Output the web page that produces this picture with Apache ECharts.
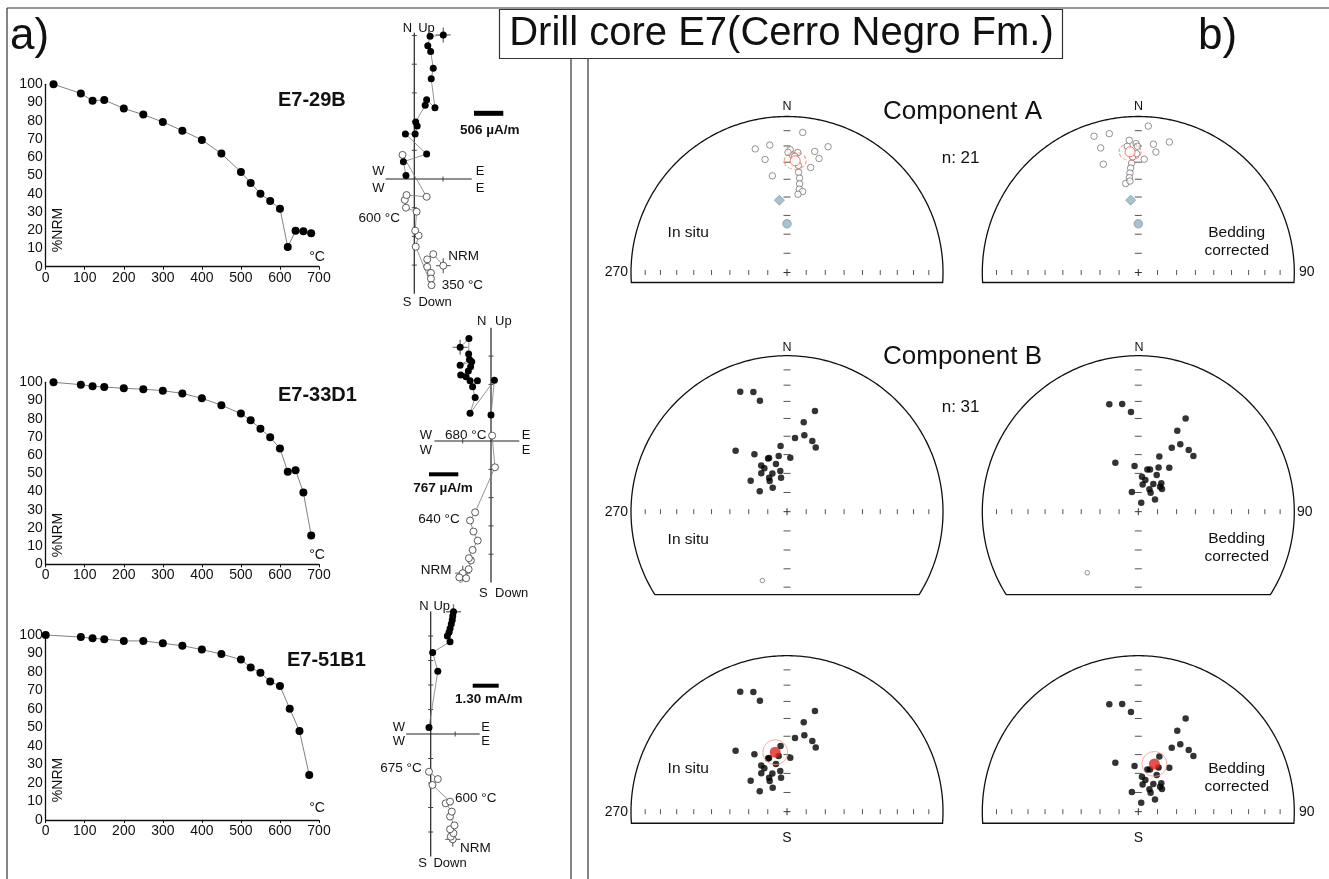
<!DOCTYPE html>
<html>
<head>
<meta charset="utf-8">
<script src="https://cdn.jsdelivr.net/npm/echarts@6/dist/echarts.min.js"></script>
<style>
  html, body { margin: 0; padding: 0; background: #fff; }
  #chart { width: 1329px; height: 879px; }
</style>
</head>
<body>
<div id="chart"></div>
<script>
// ---------- thermal demagnetisation: temperature (°C) vs remaining NRM (%) ----------
const temps29B  = [20, 90, 120, 150, 200, 250, 300, 350, 400, 450, 500, 525, 550, 575, 600, 620, 640, 660, 680];
const nrm29B    = [100, 95, 91, 91.4, 86.7, 83.4, 79.3, 74.6, 69.5, 62, 51.9, 45.9, 40, 36, 31.8, 10.8, 19.7, 19.4, 18.3];
const temps33D1 = [20, 90, 120, 150, 200, 250, 300, 350, 400, 450, 500, 525, 550, 575, 600, 620, 640, 660, 680];
const nrm33D1   = [100, 98.7, 97.8, 97.4, 96.7, 96.2, 95.4, 93.9, 91.2, 87.4, 82.8, 79.1, 74.5, 69.8, 63.6, 50.8, 51.7, 39.4, 15.8];
const temps51B1 = [0, 90, 120, 150, 200, 250, 300, 350, 400, 450, 500, 525, 550, 575, 600, 625, 650, 675];
const nrm51B1   = [100, 98.9, 98.2, 97.7, 96.8, 96.8, 95.5, 94.2, 92.1, 89.7, 86.7, 82.5, 79.6, 74.8, 72.4, 60.2, 48.1, 24.3];

// ---------- orthogonal vector diagrams (units of each specimen's scale bar) ----------
// horizontal plane (E, N): filled symbols; vertical plane (E, Up): open symbols; first entry = NRM
const zijH29B = [[1.01,5.02],[0.55,4.97],[0.47,4.64],[0.57,4.44],[0.66,3.86],[0.59,3.49],[0.72,2.48],[0.43,2.76],[0.38,2.57],[0.05,1.99],[0.10,1.85],[0.03,1.57],[-0.31,1.57],[0.43,0.87],[-0.38,0.60],[-0.29,0.12]];
const zijV29B = [[1.01,-3.02],[0.66,-2.62],[0.45,-2.80],[0.45,-3.06],[0.58,-3.27],[0.58,-3.47],[0.60,-3.70],[0.05,-2.36],[0.15,-1.97],[0.03,-1.80],[0.08,-1.14],[-0.29,-1.00],[-0.33,-0.73],[-0.27,-0.56],[0.43,-0.62],[-0.41,0.84]];
const zijH33D1 = [[-1.09,3.31],[-0.78,3.62],[-0.79,3.07],[-0.76,2.88],[-1.09,2.68],[-0.68,2.80],[-0.72,2.62],[-0.80,2.47],[-1.07,2.33],[-0.88,2.27],[-0.74,2.13],[-0.48,2.13],[-0.65,1.92],[-0.56,1.54],[-0.74,0.98],[0.12,2.15],[0.00,0.92]];
const zijV33D1 = [[-1.00,-4.67],[-1.12,-4.82],[-1.09,-5.02],[-0.88,-4.85],[-0.79,-4.53],[-0.71,-4.22],[-0.78,-4.14],[-0.65,-3.85],[-0.47,-3.52],[-0.62,-3.20],[-0.74,-2.81],[-0.56,-2.52],[0.14,-0.93],[0.04,0.19]];
const zijH51B1 = [[0.93,4.99],[0.90,4.82],[0.88,4.65],[0.84,4.49],[0.79,4.31],[0.75,4.15],[0.68,4.00],[0.79,3.77],[0.08,3.33],[0.29,2.56],[-0.07,0.27]];
const zijV51B1 = [[0.90,-4.30],[0.82,-4.19],[0.93,-4.05],[0.79,-3.89],[0.97,-3.73],[0.79,-3.37],[0.86,-3.17],[0.61,-2.83],[0.79,-2.76],[0.07,-2.08],[0.29,-1.84],[-0.07,-1.54]];

// ---------- site directions [declination, inclination] (negative inclination = upper hemisphere) ----------
const compAInSitu = [[6.4,-10.6],[345.6,-19.3],[352.3,-18.7],[349,-27.1],[1.5,-22.4],[5.1,-23.8],[12.9,-21.5],[18.1,-16.3],[15.7,-25.1],[12.7,-31.6],[351.4,-37.4],[2.7,-25.7],[6.6,-35.6],[7.6,-38.9],[8.1,-42.1],[8.4,-45.1],[10.9,-46.1],[8.0,-48.0],[3.8,-26.3],[6.1,-31.6],[0.5,-24.0]];
const compABedding = [[3.9,-6.6],[342,-9.0],[348.2,-10.0],[343.2,-17.7],[356.1,-16.2],[359,-18.5],[6.7,-18.3],[13.4,-15.1],[8.3,-23.0],[3.0,-28.1],[342.1,-27.9],[355,-19.9],[359.6,-20.2],[356.5,-30.4],[355.8,-33.3],[355.2,-36.2],[354.6,-38.8],[351.9,-41.9],[354.8,-40.8],[357.2,-26.7],[359.2,-24.8]];
const compBInSitu = [[338.7,18.6],[344.3,21.4],[346.3,27.6],[15.5,33.4],[10.6,41.3],[12.8,48.4],[6.2,50.7],[24.1,52.8],[19.7,50.2],[354.4,55.2],[319.9,47.6],[330.4,55.2],[341.5,60.3],[351.5,60.4],[3.5,61.6],[347,64.3],[330.8,62.3],[332.5,64.3],[339.1,68.6],[326.2,65.8],[350.6,68.5],[350.1,72.0],[332.2,70.0],[310.5,65.0],[330.6,71.6],[307,72.2],[329.1,75.5],[340.4,60.3],[199.7,-51.3]];
const compBBedding = [[344.9,29.4],[351.5,30.8],[355.8,36.1],[26.9,33.4],[25.7,41.9],[31.9,47.8],[27.6,51.8],[44.7,48.4],[39.3,47.7],[20.9,59.0],[334.9,61.6],[355.3,66.0],[12.1,67.4],[15.5,67.1],[24.6,64.5],[35.2,61.8],[26.7,68.6],[6.0,71.7],[12.6,73.1],[9.0,75.6],[28.5,73.6],[38.9,70.9],[46.3,72.9],[26.4,77.0],[32.9,78.2],[342,79.2],[53.6,79.2],[18.1,85.1],[41,72.7],[219.9,-47.7]];
const meanAInSitu  = [4.2, -29.0];
const meanABedding = [356.1, -23.5];
const meanBInSitu  = [348.8, 58.1];
const meanBBedding = [18.6, 63.6];
const presentField = [354, -51.5];   // diamond
const gadField     = [0, -64.5];     // circle

// ---------- drawing helpers ----------
const FONT = '"Liberation Sans", Arial, Helvetica, sans-serif';
const rad = Math.PI / 180;
const eqR = inc => Math.SQRT2 * Math.sin((90 - Math.abs(inc)) / 2 * rad);
function eqArea(d) { const r = eqR(d[1]); return [r * Math.sin(d[0] * rad), r * Math.cos(d[0] * rad)]; }
const CROSS = 'path://M0,4.55h10v0.9h-10z M4.55,0h0.9v10h-0.9z';

const grids = [], xAxes = [], yAxes = [], series = [];
function addGrid(g, xa, ya) {
  grids.push(Object.assign({ outerBoundsMode: 'none', containLabel: false }, g));
  const gi = grids.length - 1;
  xa.gridIndex = gi; ya.gridIndex = gi;
  xAxes.push(xa); yAxes.push(ya);
  return gi;
}
function seg(ch, a, b, w, c) {
  ch.push({ type: 'line', shape: { x1: a[0], y1: a[1], x2: b[0], y2: b[1] }, style: { stroke: c || '#222', lineWidth: w || 1 } });
}

// ---------- demagnetisation curves ----------
const demagLayout = [
  { left: 45.7, top: 84.3, width: 273.3, height: 182.4 },
  { left: 45.7, top: 382.3, width: 273.3, height: 182 },
  { left: 45.7, top: 635, width: 273.3, height: 185 }
];
const demagSets = [[temps29B, nrm29B], [temps33D1, nrm33D1], [temps51B1, nrm51B1]];
demagLayout.forEach((g, i) => {
  const gi = addGrid(g,
    { type: 'value', min: 0, max: 700, interval: 100,
      axisLine: { show: true, onZero: false, lineStyle: { color: '#111', width: 1.3 } },
      axisTick: { show: true, length: 3, lineStyle: { color: '#111' } },
      axisLabel: { fontSize: 14, color: '#111', margin: 4, fontFamily: FONT },
      splitLine: { show: false } },
    { type: 'value', min: 0, max: 100, interval: 10,
      axisLine: { show: true, onZero: false, lineStyle: { color: '#111', width: 1.3 } },
      axisTick: { show: false },
      axisLabel: { fontSize: 14, color: '#111', margin: 3, fontFamily: FONT },
      splitLine: { show: false } });
  series.push({
    type: 'line', xAxisIndex: gi, yAxisIndex: gi,
    data: demagSets[i][0].map((t, k) => [t, demagSets[i][1][k]]),
    symbol: 'circle', symbolSize: 8, showSymbol: true,
    itemStyle: { color: '#000' }, lineStyle: { color: '#808080', width: 1 }, z: 3
  });
});

// ---------- orthogonal vector diagrams ----------
const zijLayout = [
  { ox: 414.3, oy: 179, u: 28.7, x: [-1, 2], y: [-4, 5.1], h: zijH29B, v: zijV29B },
  { ox: 491,   oy: 441, u: 28.3, x: [-2, 1], y: [-5, 4],   h: zijH33D1, v: zijV33D1 },
  { ox: 430.7, oy: 734, u: 24.5, x: [-1, 2], y: [-5, 5],   h: zijH51B1, v: zijV51B1 }
];
function zijFrame(L) {
  return function (params, api) {
    const ch = [];
    seg(ch, api.coord([L.x[0], 0]), api.coord([L.x[1], 0]), 1.2);
    seg(ch, api.coord([0, L.y[0]]), api.coord([0, L.y[1]]), 1.2);
    for (let k = Math.ceil(L.x[0]); k <= L.x[1]; k++) {
      if (k === 0 || k === L.x[0] || k === L.x[1]) continue;
      const p = api.coord([k, 0]); seg(ch, [p[0], p[1] - 2.5], [p[0], p[1] + 2.5], 1, '#444');
    }
    for (let k = Math.ceil(L.y[0]); k <= L.y[1]; k++) {
      if (k === 0 || k === L.y[0] || k === L.y[1]) continue;
      const p = api.coord([0, k]); seg(ch, [p[0] - 2.5, p[1]], [p[0] + 2.5, p[1]], 1, '#444');
    }
    return { type: 'group', children: ch };
  };
}
zijLayout.forEach(L => {
  const gi = addGrid(
    { left: L.ox + L.x[0] * L.u, top: L.oy - L.y[1] * L.u, width: (L.x[1] - L.x[0]) * L.u, height: (L.y[1] - L.y[0]) * L.u },
    { type: 'value', min: L.x[0], max: L.x[1], show: false, splitLine: { show: false } },
    { type: 'value', min: L.y[0], max: L.y[1], show: false, splitLine: { show: false } });
  series.push({ type: 'custom', xAxisIndex: gi, yAxisIndex: gi, data: [[0, 0]], renderItem: zijFrame(L), silent: true, clip: false, z: 1 });
  // error crosses on the NRM step
  series.push({ type: 'scatter', xAxisIndex: gi, yAxisIndex: gi, data: [L.h[0], L.v[0]],
    symbol: CROSS, symbolSize: 15, itemStyle: { color: '#555' }, z: 2 });
  series.push({ type: 'line', xAxisIndex: gi, yAxisIndex: gi, data: L.v, symbol: 'circle', symbolSize: 7,
    itemStyle: { color: '#fff', borderColor: '#333', borderWidth: 0.8 }, lineStyle: { color: '#7a7a7a', width: 0.8 }, z: 3 });
  series.push({ type: 'line', xAxisIndex: gi, yAxisIndex: gi, data: L.h, symbol: 'circle', symbolSize: 7,
    itemStyle: { color: '#000' }, lineStyle: { color: '#7a7a7a', width: 0.8 }, z: 4 });
});

// ---------- equal-area stereonets ----------
const R = 156;
const netLayout = [
  { cx: 787,    cy: 272.5, clip: 0.064, dirs: compAInSitu,  openSize: 6.5, mean: meanAInSitu,  kind: 'A' },
  { cx: 1138.3, cy: 272.5, clip: 0.064, dirs: compABedding, openSize: 6.5, mean: meanABedding, kind: 'A' },
  { cx: 787,    cy: 511.7, clip: 0.532, dirs: compBInSitu,  openSize: 4.5, mean: null, kind: 'B' },
  { cx: 1138.3, cy: 511.7, clip: 0.532, dirs: compBBedding, openSize: 4.5, mean: null, kind: 'B' },
  { cx: 787,    cy: 811.7, clip: 0.074, dirs: compBInSitu,  openSize: 4.5, mean: meanBInSitu,  kind: 'C' },
  { cx: 1138.3, cy: 811.7, clip: 0.074, dirs: compBBedding, openSize: 4.5, mean: meanBBedding, kind: 'C' }
];
function netFrame(clip) {
  return function (params, api) {
    const ch = [];
    const a0 = Math.asin(clip);
    const pts = [];
    for (let k = 0; k <= 240; k++) {
      const a = -a0 + (Math.PI + 2 * a0) * k / 240;
      pts.push(api.coord([Math.cos(a), Math.sin(a)]));
    }
    ch.push({ type: 'polygon', shape: { points: pts }, style: { fill: 'none', stroke: '#111', lineWidth: 1.3 } });
    for (let I = 10; I <= 80; I += 10) {
      const r = eqR(I);
      [-r, r].forEach(x => { const p = api.coord([x, 0]); seg(ch, [p[0], p[1] - 2.5], [p[0], p[1] + 2.5], 1, '#555'); });
      const pu = api.coord([0, r]); seg(ch, [pu[0] - 3.5, pu[1]], [pu[0] + 3.5, pu[1]], 1, '#555');
      if (r < clip) { const pd = api.coord([0, -r]); seg(ch, [pd[0] - 3.5, pd[1]], [pd[0] + 3.5, pd[1]], 1, '#555'); }
    }
    const c = api.coord([0, 0]);
    seg(ch, [c[0] - 3.5, c[1]], [c[0] + 3.5, c[1]], 1, '#333');
    seg(ch, [c[0], c[1] - 3.5], [c[0], c[1] + 3.5], 1, '#333');
    return { type: 'group', children: ch };
  };
}
netLayout.forEach(N => {
  const gi = addGrid(
    { left: N.cx - R, top: N.cy - R, width: 2 * R, height: R * (1 + N.clip) },
    { type: 'value', min: -1, max: 1, show: false, splitLine: { show: false } },
    { type: 'value', min: -N.clip, max: 1, show: false, splitLine: { show: false } });
  const inView = p => p[1] >= -N.clip;
  series.push({ type: 'custom', xAxisIndex: gi, yAxisIndex: gi, data: [[0, 0]], renderItem: netFrame(N.clip), silent: true, clip: false, z: 1 });
  series.push({ type: 'scatter', xAxisIndex: gi, yAxisIndex: gi,
    data: N.dirs.filter(d => d[1] > 0).map(eqArea).filter(inView),
    symbol: 'circle', symbolSize: 6.5, itemStyle: { color: '#000' }, z: 3 });
  series.push({ type: 'scatter', xAxisIndex: gi, yAxisIndex: gi,
    data: N.dirs.filter(d => d[1] < 0).map(eqArea).filter(inView),
    symbol: 'circle', symbolSize: N.openSize, itemStyle: { color: '#fff', borderColor: '#555', borderWidth: 0.8 }, z: 3 });
  if (N.kind === 'A') {
    series.push({ type: 'scatter', xAxisIndex: gi, yAxisIndex: gi, data: [eqArea(presentField)],
      symbol: 'diamond', symbolSize: [10, 10], itemStyle: { color: '#93b3c5', borderColor: '#6f8c9c', borderWidth: 0.8 }, z: 4 });
    series.push({ type: 'scatter', xAxisIndex: gi, yAxisIndex: gi, data: [eqArea(gadField)],
      symbol: 'circle', symbolSize: 8.5, itemStyle: { color: '#93b3c5', borderColor: '#6f8c9c', borderWidth: 0.8 }, z: 4 });
    series.push({ type: 'scatter', xAxisIndex: gi, yAxisIndex: gi, data: [eqArea(N.mean)],
      symbol: 'circle', symbolSize: [22, 17], itemStyle: { color: 'rgba(0,0,0,0)', borderColor: '#f08a72', borderWidth: 1, borderType: 'dashed' }, z: 5 });
    series.push({ type: 'scatter', xAxisIndex: gi, yAxisIndex: gi, data: [eqArea(N.mean)],
      symbol: 'circle', symbolSize: 10, itemStyle: { color: '#fff', borderColor: '#f0603c', borderWidth: 1 }, z: 6 });
  } else if (N.kind === 'C') {
    series.push({ type: 'scatter', xAxisIndex: gi, yAxisIndex: gi, data: [eqArea(N.mean)],
      symbol: 'circle', symbolSize: 25, itemStyle: { color: 'rgba(0,0,0,0)', borderColor: '#f39c86', borderWidth: 1 }, z: 5 });
    series.push({ type: 'scatter', xAxisIndex: gi, yAxisIndex: gi, data: [eqArea(N.mean)],
      symbol: 'circle', symbolSize: 11, itemStyle: { color: '#e2261e' }, z: 6 });
  }
});

// ---------- annotations ----------
function txt(x, y, text, size, opt) {
  opt = opt || {};
  const align = opt.align || 'center';
  return { type: 'text', x: x, y: y, rotation: opt.rot || 0, silent: true, z: 100,
    style: { text: text, fill: opt.color || '#111', font: (opt.bold ? 'bold ' : '') + size + 'px ' + FONT,
      textAlign: align, textVerticalAlign: 'middle', align: align, verticalAlign: 'middle' } };
}
function ln(x1, y1, x2, y2, w) {
  return { type: 'line', silent: true, z: 90, shape: { x1, y1, x2, y2 }, style: { stroke: '#333', lineWidth: w || 1.2 } };
}
function bar(x, y, w, h) {
  return { type: 'rect', silent: true, z: 90, shape: { x, y, width: w, height: h }, style: { fill: '#000' } };
}
const graphics = [
  // figure frame and panel divider
  ln(7, 8, 7, 879), ln(7, 8, 1329, 8),
  ln(571, 58, 571, 879), ln(588, 58, 588, 879),
  { type: 'rect', silent: true, z: 95, shape: { x: 499.5, y: 9.5, width: 563, height: 49 }, style: { fill: '#fff', stroke: '#333', lineWidth: 1.2 } },
  txt(781.5, 34, 'Drill core E7(Cerro Negro Fm.)', 40),
  txt(10, 37, 'a)', 44, { align: 'left' }),
  txt(1198, 37, 'b)', 44, { align: 'left' }),

  // demagnetisation panels
  txt(278, 100, 'E7-29B', 20, { bold: true, align: 'left' }),
  txt(278, 395, 'E7-33D1', 20, { bold: true, align: 'left' }),
  txt(287, 660, 'E7-51B1', 20, { bold: true, align: 'left' }),
  txt(58, 230, '%NRM', 14, { rot: Math.PI / 2 }),
  txt(58, 535, '%NRM', 14, { rot: Math.PI / 2 }),
  txt(58, 780, '%NRM', 14, { rot: Math.PI / 2 }),
  txt(317, 257, '°C', 14), txt(317, 555, '°C', 14), txt(317, 808, '°C', 14),

  // vector diagram E7-29B
  txt(407.5, 28, 'N', 13), txt(426.5, 28, 'Up', 13),
  txt(407, 302.7, 'S', 13), txt(435, 302.7, 'Down', 13),
  txt(378.3, 171.7, 'W', 13), txt(378.3, 188.3, 'W', 13),
  txt(480, 171.7, 'E', 13), txt(480, 188.3, 'E', 13),
  bar(474, 110.8, 29.3, 5),
  txt(460, 130, '506 µA/m', 13.5, { bold: true, align: 'left' }),
  txt(400, 218, '600 °C', 13.5, { align: 'right' }),
  txt(448.3, 256.7, 'NRM', 13.5, { align: 'left' }),
  txt(441.7, 285, '350 °C', 13.5, { align: 'left' }),

  // vector diagram E7-33D1
  txt(481.7, 321.7, 'N', 13), txt(503.3, 321.7, 'Up', 13),
  txt(483.3, 593.3, 'S', 13), txt(511.7, 593.3, 'Down', 13),
  txt(426, 435, 'W', 13), txt(426, 450, 'W', 13),
  txt(526, 435, 'E', 13), txt(526, 450, 'E', 13),
  txt(445, 435, '680 °C', 13.5, { align: 'left' }),
  bar(429, 472.3, 29.3, 4),
  txt(413.3, 488.3, '767 µA/m', 13.5, { bold: true, align: 'left' }),
  txt(418.3, 519.3, '640 °C', 13.5, { align: 'left' }),
  txt(420.7, 570, 'NRM', 13.5, { align: 'left' }),

  // vector diagram E7-51B1
  txt(424, 606.7, 'N', 13), txt(441.7, 606.7, 'Up', 13),
  txt(422.7, 863.3, 'S', 13), txt(450, 863.3, 'Down', 13),
  txt(399, 727.3, 'W', 13), txt(399, 741.7, 'W', 13),
  txt(485.7, 727.3, 'E', 13), txt(485.7, 741.7, 'E', 13),
  bar(472.7, 683.7, 26, 4),
  txt(455, 699.3, '1.30 mA/m', 13.5, { bold: true, align: 'left' }),
  txt(421.7, 768.3, '675 °C', 13.5, { align: 'right' }),
  txt(455, 798.3, '600 °C', 13.5, { align: 'left' }),
  txt(460, 848.3, 'NRM', 13.5, { align: 'left' }),

  // stereonets
  txt(883, 112, 'Component A', 26, { align: 'left' }),
  txt(941.7, 158, 'n: 21', 17, { align: 'left' }),
  txt(883, 357, 'Component B', 26, { align: 'left' }),
  txt(941.7, 407, 'n: 31', 17, { align: 'left' }),
  txt(787, 107, 'N', 12.5), txt(1138.5, 107, 'N', 12.5),
  txt(787, 347.5, 'N', 12.5), txt(1139, 347.5, 'N', 12.5),
  txt(787, 838, 'S', 14), txt(1138.3, 838, 'S', 14),
  txt(628, 272.5, '270', 14, { align: 'right' }), txt(628, 512, '270', 14, { align: 'right' }), txt(628, 811.7, '270', 14, { align: 'right' }),
  txt(1299, 272.5, '90', 14, { align: 'left' }), txt(1297, 512, '90', 14, { align: 'left' }), txt(1299, 811.7, '90', 14, { align: 'left' }),
  txt(688.3, 232.7, 'In situ', 15.5), txt(688.3, 540, 'In situ', 15.5), txt(688.3, 769, 'In situ', 15.5),
  txt(1236.7, 232.7, 'Bedding', 15.5), txt(1236.7, 250.5, 'corrected', 15.5),
  txt(1236.7, 538.3, 'Bedding', 15.5), txt(1236.7, 556.7, 'corrected', 15.5),
  txt(1236.7, 768.3, 'Bedding', 15.5), txt(1236.7, 786.7, 'corrected', 15.5)
];

const chart = echarts.init(document.getElementById('chart'), null, { renderer: 'canvas' });
chart.setOption({
  animation: false,
  backgroundColor: '#fff',
  textStyle: { fontFamily: FONT },
  grid: grids,
  xAxis: xAxes,
  yAxis: yAxes,
  series: series,
  graphic: { elements: graphics }
});
</script>
</body>
</html>
